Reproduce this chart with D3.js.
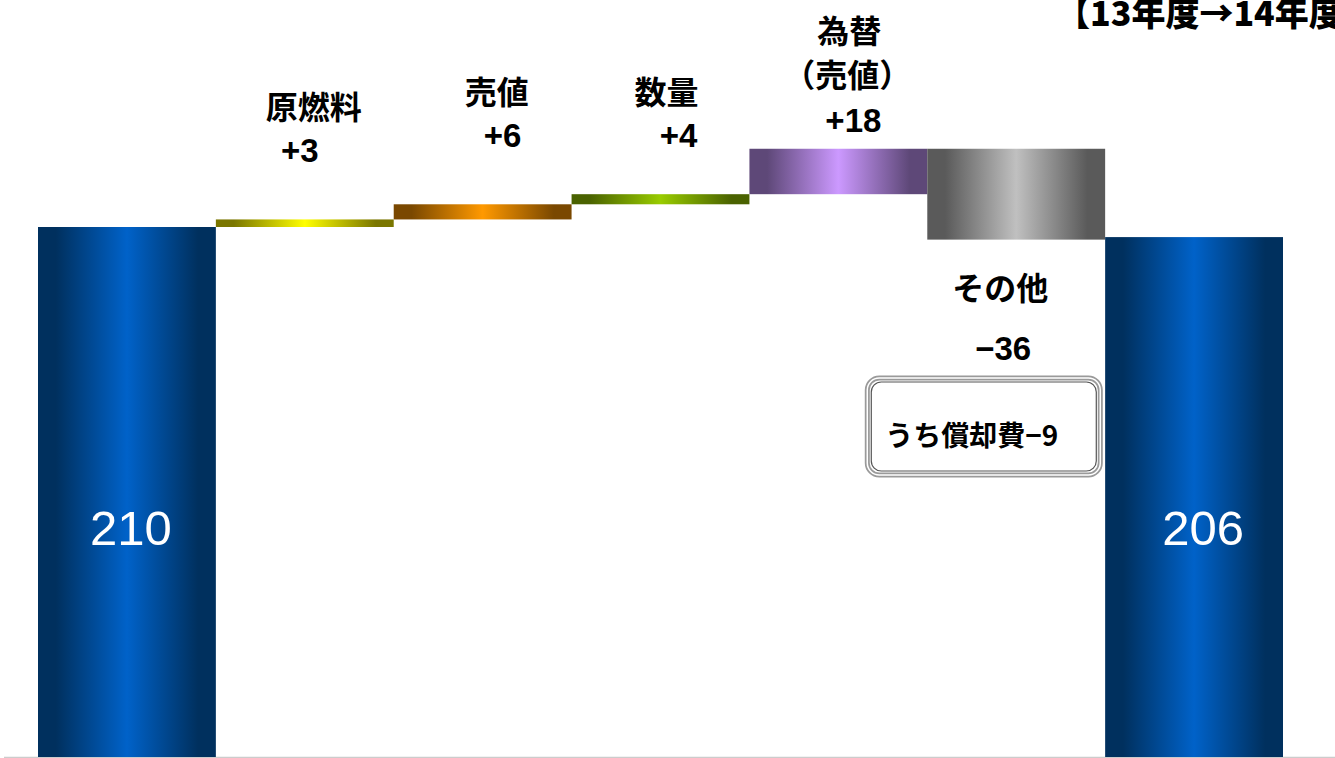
<!DOCTYPE html>
<html>
<head>
<meta charset="utf-8">
<script src="https://cdn.jsdelivr.net/npm/d3@7"></script>
<style>
  body { margin: 0; background: #fff; }
  text { font-family: "Noto Sans CJK JP", sans-serif; font-weight: 700; }
  text.num { font-family: "Liberation Sans", Arial, sans-serif; }
</style>
</head>
<body>
<div id="chart"></div>
<script>
// waterfall: 13年度 -> 14年度
const categories = ['13年度', '原燃料', '売値', '数量', '為替', 'その他', '14年度']
const labels = [null, ['原燃料'], ['売値'], ['数量'], ['為替', '（売値）'], ['その他'], null]
const values = [210, 3, 6, 4, 18, -36, 206]
const valueText = ['210', '+3', '+6', '+4', '+18', '−36', '206']
const kinds = ['total', 'delta', 'delta', 'delta', 'delta', 'delta', 'total']
// edge colour, centre colour of each bar's sideways gradient
const colors = [
  ['#00305e', '#0062c9'],
  ['#7a7600', '#ffff00'],
  ['#7a4800', '#ff9900'],
  ['#4a6200', '#99cc00'],
  ['#5e4878', '#cc99ff'],
  ['#5a5a5a', '#c0c0c0'],
  ['#00305e', '#0062c9']
]
const title = '【13年度→14年度】'
const note = 'うち償却費−9'

const width = 1335, height = 758
const margin = {top: 0, right: 52, bottom: 1, left: 38}

const svg = d3.select('#chart').append('svg')
    .attr('width', width)
    .attr('height', height)

// running totals
let run = 0
const bars = values.map((v, i) => {
  let y0, y1
  if (kinds[i] === 'total') { y0 = 0; y1 = v; run = v }
  else { y0 = run; y1 = run + v; run = y1 }
  return { key: categories[i], y0, y1, i }
})

const xScale = d3.scaleBand()
    .domain(categories)
    .range([margin.left, width - margin.right])
    .paddingInner(0)
    .paddingOuter(0)

const yScale = d3.scaleLinear()
    .domain([0, 210])
    .range([height - margin.bottom, 227])

const defs = svg.append('defs')
colors.forEach((c, i) => {
  const g = defs.append('linearGradient')
      .attr('id', 'grad' + i)
      .attr('x1', 0).attr('x2', 1).attr('y1', 0).attr('y2', 0)
  g.append('stop').attr('offset', '0%').attr('stop-color', c[0])
  g.append('stop').attr('offset', '10%').attr('stop-color', c[0])
  g.append('stop').attr('offset', '50%').attr('stop-color', c[1])
  g.append('stop').attr('offset', '90%').attr('stop-color', c[0])
  g.append('stop').attr('offset', '100%').attr('stop-color', c[0])
})

// baseline
svg.append('line')
    .attr('x1', 4).attr('x2', width)
    .attr('y1', yScale(0) + 0.5).attr('y2', yScale(0) + 0.5)
    .attr('stroke', '#cccccc')
    .attr('stroke-width', 1.5)

svg.append('g').selectAll('rect')
  .data(bars)
  .enter()
    .append('rect')
    .attr('x', d => xScale(d.key))
    .attr('width', xScale.bandwidth())
    .attr('y', d => yScale(Math.max(d.y0, d.y1)))
    .attr('height', d => Math.abs(yScale(d.y0) - yScale(d.y1)))
    .attr('fill', d => 'url(#grad' + d.i + ')')

// value labels inside total bars
const totalShift = { '13年度': 4, '14年度': 9 }
svg.append('g').selectAll('text')
  .data(bars.filter(d => kinds[d.i] === 'total'))
  .enter()
    .append('text')
    .attr('class', 'num')
    .attr('x', d => xScale(d.key) + xScale.bandwidth() / 2 + totalShift[d.key])
    .attr('y', 545)
    .attr('text-anchor', 'middle')
    .attr('fill', '#fff')
    .style('font-size', '49px')
    .style('font-weight', 400)
    .text(d => valueText[d.i])

// category + value labels for the deltas
const labelPos = {
  '原燃料': { dx: 9, top: 119, vdx: -5, vy: 162 },
  '売値': { dx: 14, top: 104, vdx: 20, vy: 147 },
  '数量': { dx: 6, top: 104, vdx: 18, vy: 147 },
  '為替': { dx: 11, top: 43, vdx: 15, vy: 132 },
  'その他': { dx: -16, top: 300, vdx: -13, vy: 360 }
}
const deltas = bars.filter(d => kinds[d.i] === 'delta')
const lab = svg.append('g').selectAll('g')
  .data(deltas)
  .enter()
    .append('g')

lab.each(function(d) {
  const p = labelPos[d.key]
  const cx = xScale(d.key) + xScale.bandwidth() / 2
  const g = d3.select(this)
  labels[d.i].forEach((t, j) => {
    g.append('text')
      .attr('x', cx + p.dx - (j ? 2 : 0))
      .attr('y', p.top + j * 44)
      .attr('text-anchor', 'middle')
      .style('font-size', '32px')
      .text(t)
  })
  g.append('text')
    .attr('class', 'num')
    .attr('x', cx + p.vdx)
    .attr('y', p.vy)
    .attr('text-anchor', 'middle')
    .style('font-size', '33px')
    .text(valueText[d.i])
})

// note box under その他
const bx = xScale('その他') - 60, by = 378
const box = svg.append('g')
box.append('rect')
    .attr('x', bx).attr('y', by).attr('width', 233).attr('height', 97)
    .attr('rx', 12)
    .attr('fill', '#fff')
    .attr('stroke', '#9a9a9a').attr('stroke-width', 5)
box.append('rect')
    .attr('x', bx).attr('y', by).attr('width', 233).attr('height', 97)
    .attr('rx', 12)
    .attr('fill', 'none')
    .attr('stroke', '#fff').attr('stroke-width', 1.5)
box.append('rect')
    .attr('x', bx + 4).attr('y', by + 4).attr('width', 225).attr('height', 89)
    .attr('rx', 10)
    .attr('fill', '#fff')
    .attr('stroke', '#555').attr('stroke-width', 1.2)
box.append('text')
    .attr('x', bx + 18).attr('y', by + 68)
    .style('font-size', '28px')
    .text(note)

svg.append('text')
    .attr('x', 1056)
    .attr('y', 26)
    .style('font-size', '34px')
    .style('font-weight', 900)
    .text(title)
</script>
</body>
</html>
